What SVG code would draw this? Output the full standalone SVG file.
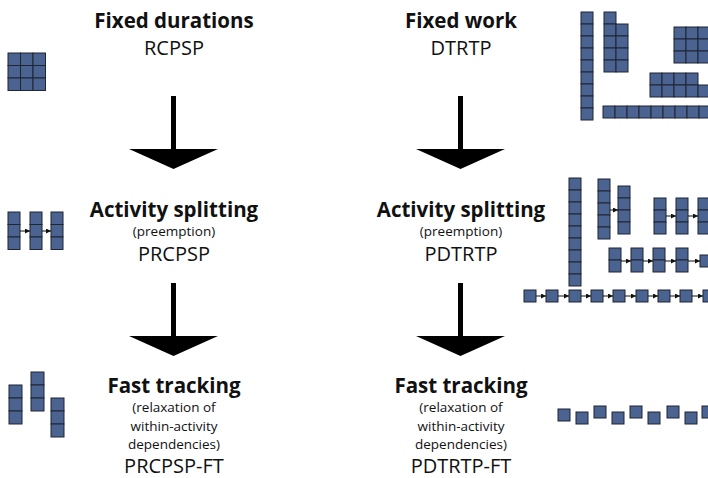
<svg xmlns="http://www.w3.org/2000/svg" width="708" height="478" viewBox="0 0 708 478">
<style>
.c{fill:#4b6390;stroke:#1e2533;stroke-width:1}
.t{font-family:"Open Sans","Liberation Sans",sans-serif;fill:#111;text-anchor:middle}
.b{font-weight:bold;font-size:20.5px}
.r{font-size:20px}
.s{font-size:13.5px}
.sa{stroke:#111;stroke-width:1;marker-end:url(#ah)}
.big{fill:#000}
</style>
<defs>
<marker id="ah" markerWidth="5" markerHeight="5" refX="5" refY="2.5" orient="auto" markerUnits="userSpaceOnUse">
<path d="M0,0 L5,2.5 L0,5 Z" fill="#111"/>
</marker>
</defs>

<g id="connectors">
<path class="big" d="M171,96 H176 V149 H218 L173.5,169 L129,149 H171 Z"/>
<path class="big" d="M171,283 H176 V336 H218 L173.5,356 L129,336 H171 Z"/>
<path class="big" d="M458,96 H463 V149 H505 L460.5,169 L416,149 H458 Z"/>
<path class="big" d="M458,283 H463 V336 H505 L460.5,356 L416,336 H458 Z"/>
</g>

<g id="node-rcpsp">
<text class="t b" x="174" y="28">Fixed durations</text>
<text class="t r" x="174" y="55">RCPSP</text>
</g>
<g id="node-dtrtp">
<text class="t b" x="461" y="28">Fixed work</text>
<text class="t r" x="461" y="55">DTRTP</text>
</g>
<g id="node-prcpsp">
<text class="t b" x="174" y="217">Activity splitting</text>
<text class="t s" x="174" y="236">(preemption)</text>
<text class="t r" x="174" y="261">PRCPSP</text>
</g>
<g id="node-pdtrtp">
<text class="t b" x="461" y="217">Activity splitting</text>
<text class="t s" x="461" y="236">(preemption)</text>
<text class="t r" x="461" y="261">PDTRTP</text>
</g>
<g id="node-prcpsp-ft">
<text class="t b" x="174" y="393">Fast tracking</text>
<text class="t s" x="174" y="412">(relaxation of</text>
<text class="t s" x="174" y="431">within-activity</text>
<text class="t s" x="174" y="449">dependencies)</text>
<text class="t r" x="174" y="473">PRCPSP-FT</text>
</g>
<g id="node-pdtrtp-ft">
<text class="t b" x="461" y="393">Fast tracking</text>
<text class="t s" x="461" y="412">(relaxation of</text>
<text class="t s" x="461" y="431">within-activity</text>
<text class="t s" x="461" y="449">dependencies)</text>
<text class="t r" x="461" y="473">PDTRTP-FT</text>
</g>

<g id="icon-left-1">
<rect class="c" x="8" y="53" width="12.5" height="12.5"/><rect class="c" x="20.5" y="53" width="12.5" height="12.5"/><rect class="c" x="33" y="53" width="12.5" height="12.5"/>
<rect class="c" x="8" y="65.5" width="12.5" height="12.5"/><rect class="c" x="20.5" y="65.5" width="12.5" height="12.5"/><rect class="c" x="33" y="65.5" width="12.5" height="12.5"/>
<rect class="c" x="8" y="78" width="12.5" height="12.5"/><rect class="c" x="20.5" y="78" width="12.5" height="12.5"/><rect class="c" x="33" y="78" width="12.5" height="12.5"/>
</g>

<g id="icon-left-2">
<rect class="c" x="8" y="212" width="12" height="12.5"/><rect class="c" x="8" y="224.5" width="12" height="12.5"/><rect class="c" x="8" y="237" width="12" height="12.5"/>
<rect class="c" x="30" y="212" width="12" height="12.5"/><rect class="c" x="30" y="224.5" width="12" height="12.5"/><rect class="c" x="30" y="237" width="12" height="12.5"/>
<rect class="c" x="51" y="212" width="12" height="12.5"/><rect class="c" x="51" y="224.5" width="12" height="12.5"/><rect class="c" x="51" y="237" width="12" height="12.5"/>
<line class="sa" x1="20" y1="231" x2="30" y2="231"/>
<line class="sa" x1="42" y1="231" x2="51" y2="231"/>
</g>

<g id="icon-left-3">
<rect class="c" x="9" y="385" width="13" height="13"/><rect class="c" x="9" y="398" width="13" height="13"/><rect class="c" x="9" y="411" width="13" height="13"/>
<rect class="c" x="31" y="372" width="13" height="13"/><rect class="c" x="31" y="385" width="13" height="13"/><rect class="c" x="31" y="398" width="13" height="13"/>
<rect class="c" x="51" y="398" width="13" height="13"/><rect class="c" x="51" y="411" width="13" height="13"/><rect class="c" x="51" y="424" width="13" height="13"/>
</g>

<g id="icon-right-1">
<rect class="c" x="581" y="12" width="12" height="12"/><rect class="c" x="581" y="24" width="12" height="12"/><rect class="c" x="581" y="36" width="12" height="12"/><rect class="c" x="581" y="48" width="12" height="12"/><rect class="c" x="581" y="60" width="12" height="12"/><rect class="c" x="581" y="72" width="12" height="12"/><rect class="c" x="581" y="84" width="12" height="12"/><rect class="c" x="581" y="96" width="12" height="12"/><rect class="c" x="581" y="108" width="12" height="12"/>
<rect class="c" x="604" y="12" width="12" height="12"/><rect class="c" x="604" y="24" width="12" height="12"/><rect class="c" x="604" y="36" width="12" height="12"/><rect class="c" x="604" y="48" width="12" height="12"/><rect class="c" x="604" y="60" width="12" height="12"/>
<rect class="c" x="616" y="24" width="12" height="12"/><rect class="c" x="616" y="36" width="12" height="12"/><rect class="c" x="616" y="48" width="12" height="12"/><rect class="c" x="616" y="60" width="12" height="12"/>
<rect class="c" x="674" y="27" width="12" height="12"/><rect class="c" x="686" y="27" width="12" height="12"/><rect class="c" x="698" y="27" width="12" height="12"/>
<rect class="c" x="674" y="39" width="12" height="12"/><rect class="c" x="686" y="39" width="12" height="12"/><rect class="c" x="698" y="39" width="12" height="12"/>
<rect class="c" x="674" y="51" width="12" height="12"/><rect class="c" x="686" y="51" width="12" height="12"/><rect class="c" x="698" y="51" width="12" height="12"/>
<rect class="c" x="650" y="73" width="12" height="12"/><rect class="c" x="662" y="73" width="12" height="12"/><rect class="c" x="674" y="73" width="12" height="12"/><rect class="c" x="686" y="73" width="12" height="12"/>
<rect class="c" x="650" y="85" width="12" height="12"/><rect class="c" x="662" y="85" width="12" height="12"/><rect class="c" x="674" y="85" width="12" height="12"/><rect class="c" x="686" y="85" width="12" height="12"/><rect class="c" x="698" y="85" width="12" height="12"/>
<rect class="c" x="603" y="106" width="12" height="12"/><rect class="c" x="615" y="106" width="12" height="12"/><rect class="c" x="627" y="106" width="12" height="12"/><rect class="c" x="639" y="106" width="12" height="12"/><rect class="c" x="651" y="106" width="12" height="12"/><rect class="c" x="663" y="106" width="12" height="12"/><rect class="c" x="675" y="106" width="12" height="12"/><rect class="c" x="687" y="106" width="12" height="12"/><rect class="c" x="699" y="106" width="12" height="12"/>
</g>

<g id="icon-right-2">
<rect class="c" x="569" y="178" width="12" height="12"/><rect class="c" x="569" y="190" width="12" height="12"/><rect class="c" x="569" y="202" width="12" height="12"/><rect class="c" x="569" y="214" width="12" height="12"/><rect class="c" x="569" y="226" width="12" height="12"/><rect class="c" x="569" y="238" width="12" height="12"/><rect class="c" x="569" y="250" width="12" height="12"/><rect class="c" x="569" y="262" width="12" height="12"/><rect class="c" x="569" y="274" width="12" height="12"/>
<rect class="c" x="598" y="179" width="12" height="12"/><rect class="c" x="598" y="191" width="12" height="12"/><rect class="c" x="598" y="203" width="12" height="12"/><rect class="c" x="598" y="215" width="12" height="12"/><rect class="c" x="598" y="227" width="12" height="12"/>
<rect class="c" x="618" y="186" width="12" height="12"/><rect class="c" x="618" y="198" width="12" height="12"/><rect class="c" x="618" y="210" width="12" height="12"/><rect class="c" x="618" y="222" width="12" height="12"/>
<line class="sa" x1="610" y1="210" x2="618" y2="210"/>
<rect class="c" x="654" y="198" width="12" height="12"/><rect class="c" x="654" y="210" width="12" height="12"/><rect class="c" x="654" y="222" width="12" height="12"/>
<rect class="c" x="676" y="198" width="12" height="12"/><rect class="c" x="676" y="210" width="12" height="12"/><rect class="c" x="676" y="222" width="12" height="12"/>
<rect class="c" x="698" y="198" width="12" height="12"/><rect class="c" x="698" y="210" width="12" height="12"/><rect class="c" x="698" y="222" width="12" height="12"/>
<line class="sa" x1="666" y1="216" x2="676" y2="216"/>
<line class="sa" x1="688" y1="216" x2="698" y2="216"/>
<rect class="c" x="609" y="248" width="12" height="12"/><rect class="c" x="609" y="260" width="12" height="12"/>
<rect class="c" x="631" y="248" width="12" height="12"/><rect class="c" x="631" y="260" width="12" height="12"/>
<rect class="c" x="653" y="248" width="12" height="12"/><rect class="c" x="653" y="260" width="12" height="12"/>
<rect class="c" x="676" y="248" width="12" height="12"/><rect class="c" x="676" y="260" width="12" height="12"/>
<rect class="c" x="700" y="255" width="12" height="12"/>
<line class="sa" x1="621" y1="261" x2="631" y2="261"/>
<line class="sa" x1="643" y1="261" x2="653" y2="261"/>
<line class="sa" x1="665" y1="261" x2="676" y2="261"/>
<line class="sa" x1="688" y1="261" x2="700" y2="261"/>
<rect class="c" x="524" y="290" width="12" height="12"/><rect class="c" x="546" y="290" width="12" height="12"/><rect class="c" x="569" y="290" width="12" height="12"/><rect class="c" x="591" y="290" width="12" height="12"/><rect class="c" x="613" y="290" width="12" height="12"/><rect class="c" x="636" y="290" width="12" height="12"/><rect class="c" x="658" y="290" width="12" height="12"/><rect class="c" x="680" y="290" width="12" height="12"/><rect class="c" x="703" y="290" width="12" height="12"/>
<line class="sa" x1="536" y1="296" x2="546" y2="296"/>
<line class="sa" x1="558" y1="296" x2="569" y2="296"/>
<line class="sa" x1="581" y1="296" x2="591" y2="296"/>
<line class="sa" x1="603" y1="296" x2="613" y2="296"/>
<line class="sa" x1="625" y1="296" x2="636" y2="296"/>
<line class="sa" x1="648" y1="296" x2="658" y2="296"/>
<line class="sa" x1="670" y1="296" x2="680" y2="296"/>
<line class="sa" x1="692" y1="296" x2="703" y2="296"/>
</g>

<g id="icon-right-3">
<rect class="c" x="558" y="409" width="12" height="12"/>
<rect class="c" x="576" y="412" width="12" height="12"/>
<rect class="c" x="594" y="406" width="12" height="12"/>
<rect class="c" x="612" y="412" width="12" height="12"/>
<rect class="c" x="630" y="406" width="12" height="12"/>
<rect class="c" x="648" y="412" width="12" height="12"/>
<rect class="c" x="667" y="406" width="12" height="12"/>
<rect class="c" x="685" y="412" width="12" height="12"/>
<rect class="c" x="702" y="406" width="12" height="12"/>
</g>
</svg>
